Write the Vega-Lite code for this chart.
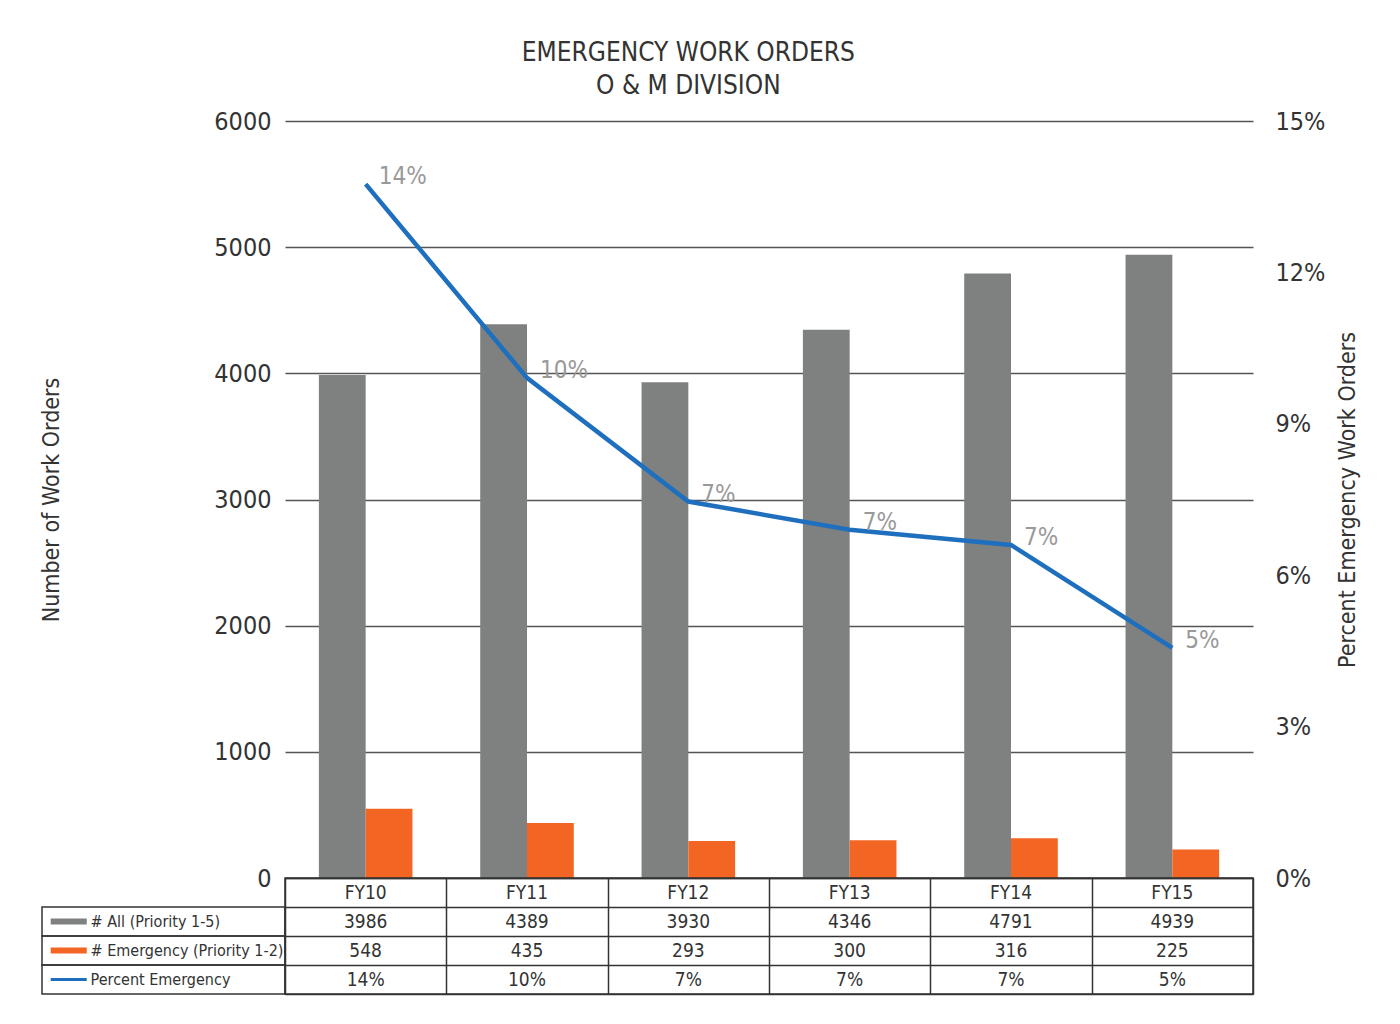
{
  "$schema": "https://vega.github.io/schema/vega-lite/v6.json",
  "padding": {"left": 40, "top": 40, "right": 5, "bottom": 5},
  "background": "white",
  "title": {
    "text": ["EMERGENCY WORK ORDERS", "O & M DIVISION"],
    "fontSize": 26,
    "fontWeight": "normal",
    "color": "#333333",
    "lineHeight": 33,
    "offset": 10,
    "dx": -12,
    "anchor": "middle"
  },
  "datasets": {
    "orders": [
      {"year": "FY10", "all": 3986, "emergency": 548, "pct": 0.1375, "pctLabel": "14%"},
      {"year": "FY11", "all": 4389, "emergency": 435, "pct": 0.0991, "pctLabel": "10%"},
      {"year": "FY12", "all": 3930, "emergency": 293, "pct": 0.0746, "pctLabel": "7%"},
      {"year": "FY13", "all": 4346, "emergency": 300, "pct": 0.0690, "pctLabel": "7%"},
      {"year": "FY14", "all": 4791, "emergency": 316, "pct": 0.0660, "pctLabel": "7%"},
      {"year": "FY15", "all": 4939, "emergency": 225, "pct": 0.0456, "pctLabel": "5%"}
    ],
    "table": [
      {"year": "FY10", "row": "hdr", "text": "FY10"},
      {"year": "FY11", "row": "hdr", "text": "FY11"},
      {"year": "FY12", "row": "hdr", "text": "FY12"},
      {"year": "FY13", "row": "hdr", "text": "FY13"},
      {"year": "FY14", "row": "hdr", "text": "FY14"},
      {"year": "FY15", "row": "hdr", "text": "FY15"},
      {"year": "FY10", "row": "all", "text": "3986"},
      {"year": "FY11", "row": "all", "text": "4389"},
      {"year": "FY12", "row": "all", "text": "3930"},
      {"year": "FY13", "row": "all", "text": "4346"},
      {"year": "FY14", "row": "all", "text": "4791"},
      {"year": "FY15", "row": "all", "text": "4939"},
      {"year": "FY10", "row": "emergency", "text": "548"},
      {"year": "FY11", "row": "emergency", "text": "435"},
      {"year": "FY12", "row": "emergency", "text": "293"},
      {"year": "FY13", "row": "emergency", "text": "300"},
      {"year": "FY14", "row": "emergency", "text": "316"},
      {"year": "FY15", "row": "emergency", "text": "225"},
      {"year": "FY10", "row": "pct", "text": "14%"},
      {"year": "FY11", "row": "pct", "text": "10%"},
      {"year": "FY12", "row": "pct", "text": "7%"},
      {"year": "FY13", "row": "pct", "text": "7%"},
      {"year": "FY14", "row": "pct", "text": "7%"},
      {"year": "FY15", "row": "pct", "text": "5%"}
    ],
    "legendRows": [
      {"row": "all", "label": "# All (Priority 1-5)"},
      {"row": "emergency", "label": "# Emergency (Priority 1-2)"},
      {"row": "pct", "label": "Percent Emergency"}
    ]
  },
  "columns": 2,
  "spacing": 0,
  "bounds": "flush",
  "concat": [
    {
      "width": 243,
      "height": 757,
      "data": {"values": [{}]},
      "mark": "text",
      "encoding": {"text": {"value": ""}}
    },
    {
      "width": 968,
      "height": 757,
      "data": {"name": "orders"},
      "encoding": {
        "x": {
          "field": "year",
          "type": "nominal",
          "scale": {"paddingInner": 0.42, "paddingOuter": 0.21},
          "axis": null
        }
      },
      "layer": [
        {
          "transform": [{"fold": ["all", "emergency"], "as": ["series", "count"]}],
          "mark": {"type": "bar"},
          "encoding": {
            "xOffset": {
              "field": "series",
              "type": "nominal",
              "sort": ["all", "emergency"],
              "scale": {"paddingInner": 0, "paddingOuter": 0}
            },
            "y": {
              "field": "count",
              "type": "quantitative",
              "scale": {"domain": [0, 6000]},
              "axis": {
                "values": [0, 1000, 2000, 3000, 4000, 5000, 6000],
                "format": "d",
                "title": "Number of Work Orders",
                "titleFontSize": 23,
                "titleFontWeight": "normal",
                "titleColor": "#333333",
                "titlePadding": 150,
                "labelFontSize": 25,
                "labelColor": "#333333",
                "labelPadding": 14,
                "ticks": false,
                "domain": false,
                "grid": true,
                "gridColor": "#555555",
                "gridWidth": 1.3
              }
            },
            "color": {
              "field": "series",
              "type": "nominal",
              "scale": {"domain": ["all", "emergency"], "range": ["#7f8080", "#f26522"]},
              "legend": null
            }
          }
        },
        {
          "encoding": {
            "y": {
              "field": "pct",
              "type": "quantitative",
              "scale": {"domain": [0, 0.15]},
              "axis": {
                "orient": "right",
                "values": [0, 0.03, 0.06, 0.09, 0.12, 0.15],
                "format": ".0%",
                "title": "Percent Emergency Work Orders",
                "titleAngle": 270,
                "titleBaseline": "top",
                "titleFontSize": 23,
                "titleFontWeight": "normal",
                "titleColor": "#333333",
                "titlePadding": 12,
                "labelFontSize": 25,
                "labelColor": "#333333",
                "labelPadding": 22,
                "ticks": false,
                "domain": false,
                "grid": false
              }
            }
          },
          "layer": [
            {
              "mark": {"type": "line", "color": "#1f6fbf", "strokeWidth": 4.5}
            },
            {
              "mark": {
                "type": "text",
                "align": "left",
                "baseline": "middle",
                "dx": 13,
                "dy": -7,
                "fontSize": 24,
                "color": "#999999"
              },
              "encoding": {"text": {"field": "pctLabel"}}
            }
          ]
        }
      ],
      "resolve": {"scale": {"y": "independent"}}
    },
    {
      "width": 243,
      "height": 116,
      "data": {"name": "legendRows"},
      "encoding": {
        "y": {
          "field": "row",
          "type": "nominal",
          "scale": {"domain": ["hdr", "all", "emergency", "pct"], "paddingInner": 0, "paddingOuter": 0},
          "axis": null
        }
      },
      "layer": [
        {
          "mark": {"type": "rect", "fill": null, "stroke": "#333333", "strokeWidth": 1.5}
        },
        {
          "mark": {"type": "point", "filled": true, "opacity": 1},
          "encoding": {
            "x": {"datum": 0.11, "type": "quantitative", "scale": {"domain": [0, 1]}, "axis": null},
            "shape": {
              "field": "row",
              "type": "nominal",
              "scale": {
                "domain": ["all", "emergency", "pct"],
                "range": [
                  "M-1,-0.17L1,-0.17L1,0.17L-1,0.17Z",
                  "M-1,-0.17L1,-0.17L1,0.17L-1,0.17Z",
                  "M-1,-0.08L1,-0.08L1,0.08L-1,0.08Z"
                ]
              },
              "legend": null
            },
            "color": {
              "field": "row",
              "type": "nominal",
              "scale": {"domain": ["all", "emergency", "pct"], "range": ["#7f8080", "#f26522", "#1f6fbf"]},
              "legend": null
            },
            "size": {"value": 1300}
          }
        },
        {
          "mark": {"type": "text", "align": "left", "baseline": "middle", "fontSize": 16, "color": "#333333"},
          "encoding": {
            "x": {"datum": 0.2, "type": "quantitative", "scale": {"domain": [0, 1]}, "axis": null},
            "text": {"field": "label"}
          }
        }
      ],
      "resolve": {"scale": {"color": "independent"}}
    },
    {
      "width": 968,
      "height": 116,
      "view": {"stroke": "#333333", "strokeWidth": 1.5},
      "data": {"name": "table"},
      "mark": {"type": "text", "fontSize": 19, "color": "#333333", "baseline": "middle"},
      "encoding": {
        "x": {
          "field": "year",
          "type": "nominal",
          "scale": {"paddingInner": 0, "paddingOuter": 0},
          "axis": {
            "labels": false,
            "ticks": false,
            "domain": false,
            "title": null,
            "grid": true,
            "tickBand": "extent",
            "gridColor": "#333333",
            "gridWidth": 1.5
          }
        },
        "y": {
          "field": "row",
          "type": "nominal",
          "sort": ["hdr", "all", "emergency", "pct"],
          "scale": {"paddingInner": 0, "paddingOuter": 0},
          "axis": {
            "labels": false,
            "ticks": false,
            "domain": false,
            "title": null,
            "grid": true,
            "tickBand": "extent",
            "gridColor": "#333333",
            "gridWidth": 1.5
          }
        },
        "text": {"field": "text"}
      }
    }
  ],
  "config": {
    "font": "DejaVu Sans Condensed, Liberation Sans Narrow, sans-serif",
    "view": {"stroke": null}
  }
}
